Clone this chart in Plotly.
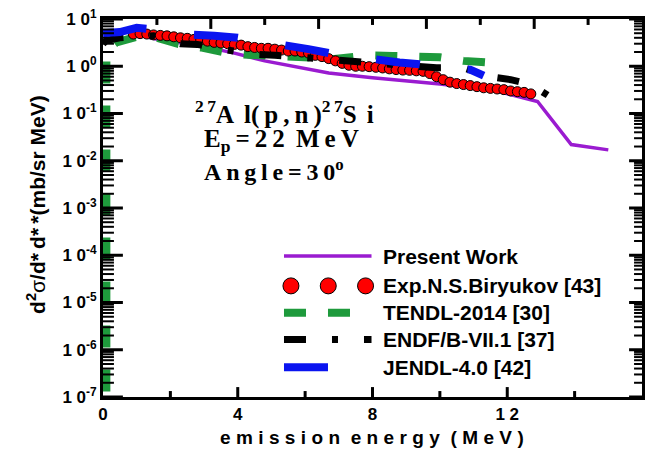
import math
import plotly.graph_objects as go

# ---------------- data ----------------
present_x = [0.9, 1.7, 2.9, 3.9, 4.8, 5.5, 6.7, 8.0, 10.0, 11.6, 12.9, 13.9, 15.0]
present_y = [5.0, 3.6, 2.7, 1.9, 1.3, 1.05, 0.72, 0.57, 0.42, 0.31, 0.18, 0.022, 0.017]

exp_x = [0.9, 1.1, 1.3, 1.5, 1.7, 1.9, 2.1, 2.3, 2.5, 2.7, 2.9, 3.1, 3.3, 3.5, 3.7, 3.9,
         4.1, 4.3, 4.5, 4.7, 4.9, 5.1, 5.3, 5.5, 5.7, 5.9, 6.1, 6.3, 6.5, 6.7, 6.9, 7.1,
         7.3, 7.5, 7.7, 7.9, 8.1, 8.3, 8.5, 8.7, 8.9, 9.1, 9.3, 9.5, 9.7, 9.9, 10.1, 10.3,
         10.5, 10.7, 10.9, 11.1, 11.3, 11.5, 11.7, 11.9, 12.1, 12.3, 12.5, 12.7]
exp_y = [4.8, 4.9, 4.8, 4.6, 4.5, 4.4, 4.2, 4.0, 3.9, 3.7, 3.6, 3.4, 3.2, 3.1, 3.0, 2.9,
         2.8, 2.6, 2.5, 2.4, 2.4, 2.3, 2.2, 2.1, 2.1, 2.0, 1.9, 1.7, 1.6, 1.45, 1.3, 1.15,
         1.05, 1.0, 1.0, 0.98, 0.95, 0.92, 0.88, 0.85, 0.83, 0.82, 0.80, 0.78, 0.70, 0.60, 0.52, 0.46,
         0.43, 0.41, 0.39, 0.37, 0.35, 0.34, 0.33, 0.32, 0.30, 0.29, 0.28, 0.26]

tendl_x = [0.1, 0.1, 0.4, 1.0, 1.6, 2.2, 2.9, 3.7, 4.3, 5.1, 5.6, 6.4, 6.8, 7.5, 7.9,
           8.6, 9.3, 10.0, 10.7, 11.4]
tendl_y = [1.3e-7, 2.2, 3.2, 4.2, 4.0, 3.0, 2.5, 1.9, 1.75, 1.7, 1.65, 1.5, 1.4, 1.5, 1.7,
           1.65, 1.6, 1.55, 1.3, 1.2]

endf_x = [0.0, 0.1, 0.5, 1.5, 2.3, 2.8, 3.7, 4.5, 5.1, 6.0, 6.4, 6.9, 7.5, 8.6, 9.4, 9.9,
          10.7, 11.5, 12.1, 12.7, 13.3, 13.7]
endf_y = [3.0, 3.5, 4.0, 4.4, 3.0, 2.9, 2.2, 1.8, 1.7, 1.5, 1.45, 1.3, 1.25, 1.05, 0.93, 0.93,
          0.93, 0.6, 0.52, 0.41, 0.22, 0.32]

jendl_x = [0.0, 0.5, 1.0, 1.3, 2.0, 2.7, 3.3, 4.0, 5.0, 5.5, 6.1, 6.7, 7.5, 8.2, 8.8, 9.4,
           10.0, 10.9, 11.3]
jendl_y = [5.0, 5.3, 6.5, 6.2, 5.0, 4.8, 4.4, 4.0, 3.2, 2.7, 2.3, 1.9, 1.55, 1.3, 1.2, 1.1,
           0.95, 0.85, 0.63]

names = ["Present Work", "Exp.N.S.Biryukov [43]", "TENDL-2014 [30]",
         "ENDF/B-VII.1 [37]", "JENDL-4.0 [42]"]

x_ticks = [0, 4, 8, 12, 16]
x_tick_text = ["0", "4", "8", "1 2", "1 6"]
bottom_major = [4, 8, 12]
bottom_minor = [2, 6, 10, 14]
top_major = [3.2, 6.4, 9.6, 12.8]
top_minor = [1.6, 4.8, 8.0, 11.2, 14.4]
y_exps = [-7, -6, -5, -4, -3, -2, -1, 0, 1]

# ---------------- styles / layout constants ----------------
PURPLE = "#9A1BD0"
RED = "#FF0000"
GREEN = "#1E9A3C"
BLACK = "#000000"
BLUE = "#0A14F0"
SANS = "Liberation Sans, Arial, sans-serif"
SERIF = "Liberation Serif, Times New Roman, serif"
W, HGT = 652, 451
ML, MR, MT, MB = 103, 7, 16, 54
X_RANGE = [0, 16]
Y_RANGE = [-7, 1]
PW, PH = W - ML - MR, HGT - MT - MB
X_SCALE = PW / (X_RANGE[1] - X_RANGE[0])   # px per MeV


def px_x(p):  # pixel column -> paper fraction
    return (p - ML) / PW


def px_y(p):  # pixel row -> paper fraction
    return (HGT - MB - p) / PH


def data_x(p):  # pixel column -> data x
    return X_RANGE[0] + (p - ML) / X_SCALE


def data_y(p):  # pixel row -> data y (log axis)
    return 10 ** (Y_RANGE[0] + px_y(p) * (Y_RANGE[1] - Y_RANGE[0]))


def frac_x(v):  # data x -> paper fraction
    return (v - X_RANGE[0]) / (X_RANGE[1] - X_RANGE[0])


def frac_y(v):  # data y (log) -> paper fraction
    return (math.log10(v) - Y_RANGE[0]) / (Y_RANGE[1] - Y_RANGE[0])


y_major = [10.0 ** e for e in y_exps]
y_text = ["1 0<sup>%d</sup>" % e for e in y_exps]
y_minor = [k * 10.0 ** e for e in y_exps[:-1] for k in range(2, 10)]

fig = go.Figure()

fig.add_trace(go.Scatter(x=present_x, y=present_y, mode="lines",
                         line=dict(color=PURPLE, width=3.5), name=names[0]))
fig.add_trace(go.Scatter(x=tendl_x, y=tendl_y, mode="lines",
                         line=dict(color=GREEN, width=8, dash="22px,22px"), name=names[2]))
fig.add_trace(go.Scatter(x=exp_x, y=exp_y, mode="markers",
                         marker=dict(color=RED, size=10, line=dict(color=BLACK, width=1)),
                         name=names[1]))
fig.add_trace(go.Scatter(x=endf_x, y=endf_y, mode="lines",
                         line=dict(color=BLACK, width=7, dash="22px,26px,6px,26px"), name=names[3]))
fig.add_trace(go.Scatter(x=jendl_x, y=jendl_y, mode="lines",
                         line=dict(color=BLUE, width=8, dash="44px,48px"), name=names[4]))


# ---------------- inward tick marks on all four sides (paper-space shapes) ----------------
def add_x_ticks(vals, length, width, top):
    for v in vals:
        fx = frac_x(v)
        y0 = 1.0 if top else 0.0
        y1 = 1.0 - length / PH if top else length / PH
        fig.add_shape(type="line", xref="paper", yref="paper", x0=fx, x1=fx, y0=y0, y1=y1,
                      line=dict(color=BLACK, width=width), layer="above")


def add_y_ticks(vals, length, width, right):
    for v in vals:
        fy = frac_y(v)
        x0 = 1.0 if right else 0.0
        x1 = 1.0 - length / PW if right else length / PW
        fig.add_shape(type="line", xref="paper", yref="paper", x0=x0, x1=x1, y0=fy, y1=fy,
                      line=dict(color=BLACK, width=width), layer="above")


add_x_ticks(bottom_major, 10, 3, top=False)
add_x_ticks(bottom_minor, 6, 3, top=False)
add_x_ticks(top_major, 10, 3, top=True)
add_x_ticks(top_minor, 6, 3, top=True)
add_y_ticks(y_major, 20, 3, right=False)
add_y_ticks(y_minor, 11, 2, right=False)
add_y_ticks(y_major, 13, 3, right=True)
add_y_ticks(y_minor, 8, 2, right=True)

# ---------------- manual legend (placed inside the main axes) ----------------
L_X0, L_X1, L_TX = 285, 373, 383
L_ROWS = [255, 285, 312, 339, 367]
leg_styles = [
    dict(mode="lines", line=dict(color=PURPLE, width=3.5)),
    None,
    dict(mode="lines", line=dict(color=GREEN, width=8, dash="22px,22px")),
    dict(mode="lines", line=dict(color=BLACK, width=7, dash="22px,26px,6px,26px")),
    dict(mode="lines", line=dict(color=BLUE, width=8, dash="44px,48px")),
]
for i, (yy, st) in enumerate(zip(L_ROWS, leg_styles)):
    if st is None:
        fig.add_trace(go.Scatter(x=[data_x(292), data_x(329.5), data_x(367)],
                                 y=[data_y(yy)] * 3, mode="markers",
                                 marker=dict(color=RED, size=16, line=dict(color=BLACK, width=1)),
                                 showlegend=False, hoverinfo="skip"))
    else:
        fig.add_trace(go.Scatter(x=[data_x(L_X0), data_x(L_X1)], y=[data_y(yy)] * 2,
                                 showlegend=False, hoverinfo="skip", **st))
    fig.add_annotation(x=px_x(L_TX), y=px_y(yy), xref="paper", yref="paper", text=names[i],
                       showarrow=False, xanchor="left", yanchor="middle",
                       font=dict(family=SANS, size=21, color="black", weight="bold"))

# ---------------- texts ----------------
T = "\u2009"
H = "\u200a"
line1 = ("<sup>2" + T + "7</sup>A" + T + T + "l(" + T + "p" + T + "," + T + "n" + T + ")"
         + "<sup>2" + T + "7</sup>S" + T + T + "i")
fig.add_annotation(x=px_x(193), y=px_y(110), xref="paper", yref="paper", xanchor="left",
                   yanchor="middle", showarrow=False, text=line1,
                   font=dict(family=SERIF, size=25, color="black", weight="bold"))
fig.add_annotation(x=px_x(203), y=px_y(138), xref="paper", yref="paper", xanchor="left",
                   yanchor="middle", showarrow=False,
                   text="E<sub>p</sub>" + T + "=" + T + "2" + T + "2" + T + " M" + T + "e" + T + "V",
                   font=dict(family=SERIF, size=25, color="black", weight="bold"))
fig.add_annotation(x=px_x(203), y=px_y(168), xref="paper", yref="paper", xanchor="left",
                   yanchor="middle", showarrow=False,
                   text="A" + T + "n" + T + "g" + T + "l" + T + "e" + T + "=" + T + "3" + T + "0<sup>o</sup>",
                   font=dict(family=SERIF, size=24, color="black", weight="bold"))

fig.add_annotation(x=px_x(35), y=px_y(203), xref="paper", yref="paper",
                   textangle=-90, showarrow=False, xanchor="center", yanchor="middle",
                   text="d<sup>2</sup><span style='font-weight:normal'>σ</span>/d*" + T + "d*" + T + "*(mb/sr MeV)",
                   font=dict(family=SANS, size=21, color="black", weight="bold"))
xt = "  ".join((T + H).join(w) for w in ["emission", "energy", "(MeV)"])
fig.add_annotation(x=px_x(373), y=px_y(438), xref="paper", yref="paper",
                   showarrow=False, xanchor="center", yanchor="middle", text=xt,
                   font=dict(family=SANS, size=19, color="black", weight="bold"))

# ---------------- axes ----------------
tickfont = dict(family=SANS, size=17, color="black", weight="bold")
common = dict(showgrid=False, zeroline=False, linecolor="black", showline=True,
              linewidth=3, mirror=True, tickfont=tickfont, ticks="")
fig.update_layout(
    width=W, height=HGT,
    margin=dict(l=ML, r=MR, t=MT, b=MB),
    paper_bgcolor="white", plot_bgcolor="white",
    showlegend=False,
    xaxis=dict(range=X_RANGE, tickmode="array", tickvals=x_ticks, ticktext=x_tick_text,
               **common),
    yaxis=dict(type="log", range=Y_RANGE, tickmode="array", tickvals=y_major,
               ticktext=y_text, **common),
)

fig.write_html("out.html")
